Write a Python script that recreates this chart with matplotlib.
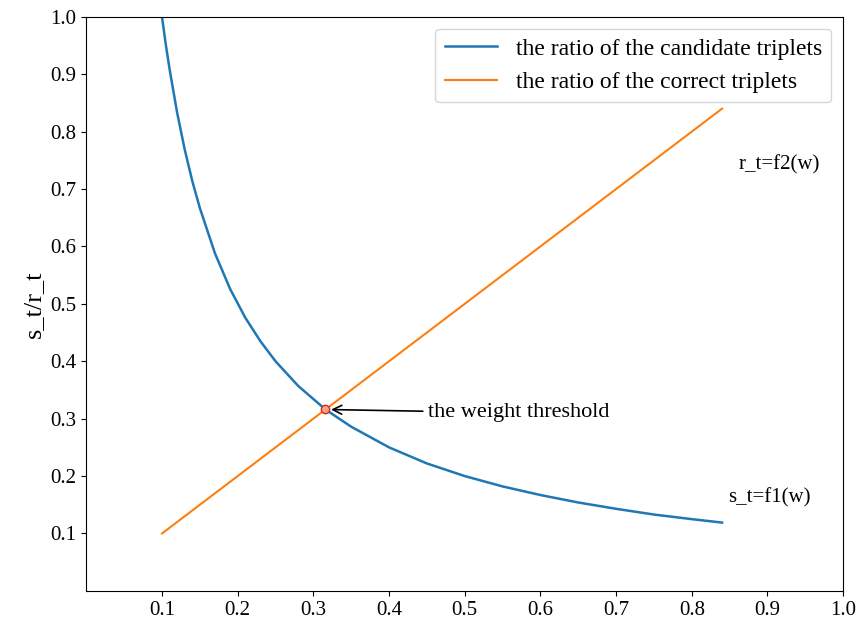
import matplotlib
matplotlib.use("Agg")
import matplotlib.pyplot as plt

# ── Data ───────────────────────────────────────────────────────────────────
w_candidate = [0.100, 0.105, 0.110, 0.120, 0.130, 0.140, 0.150, 0.170, 0.190,
               0.210, 0.230, 0.250, 0.280, 0.316, 0.350, 0.400, 0.450, 0.500,
               0.550, 0.600, 0.650, 0.700, 0.750, 0.800, 0.840]
ratio_candidate = [1.000, 0.952, 0.909, 0.833, 0.769, 0.714, 0.667, 0.588, 0.526,
                   0.476, 0.435, 0.400, 0.357, 0.316, 0.286, 0.250, 0.222, 0.200,
                   0.182, 0.167, 0.154, 0.143, 0.133, 0.125, 0.119]
w_correct = [0.10, 0.84]
ratio_correct = [0.10, 0.84]
threshold = (0.316, 0.316)

x_ticks = [0.1, 0.2, 0.3, 0.4, 0.5, 0.6, 0.7, 0.8, 0.9, 1.0]
y_ticks = [0.1, 0.2, 0.3, 0.4, 0.5, 0.6, 0.7, 0.8, 0.9, 1.0]

plt.rcParams["font.family"] = ["Liberation Serif", "DejaVu Serif"]

fig, ax = plt.subplots(figsize=(8.63, 6.22), dpi=100)
fig.subplots_adjust(left=0.1, right=0.977, top=0.973, bottom=0.05)

ax.plot(w_candidate, ratio_candidate, color="#1f77b4", lw=1.8,
        label="the ratio of the candidate triplets")
ax.plot(w_correct, ratio_correct, color="#ff7f0e", lw=1.5,
        label="the ratio of the correct triplets")
ax.plot(*threshold, "o", ms=6, mfc="#f4a582", mec="#d62728", mew=1.0)

ax.annotate("the weight threshold", xy=threshold, xytext=(0.452, 0.31),
            fontsize=16, va="center",
            arrowprops=dict(arrowstyle="->", color="black", lw=1.2,
                            shrinkA=2, shrinkB=4))
ax.text(0.862, 0.742, "r_t=f2(w)", fontsize=15, va="center")
ax.text(0.848, 0.162, "s_t=f1(w)", fontsize=15, va="center")

ax.set_xlim(0, 1.0)
ax.set_ylim(0, 1.0)
ax.set_xticks(x_ticks)
ax.set_yticks(y_ticks)
ax.tick_params(labelsize=15)
ax.set_ylabel("s_t/r_t", fontsize=19)
ax.legend(loc="upper right", fontsize=17, handlelength=2.2)

plt.savefig("out.png", dpi=100)
plt.close()
